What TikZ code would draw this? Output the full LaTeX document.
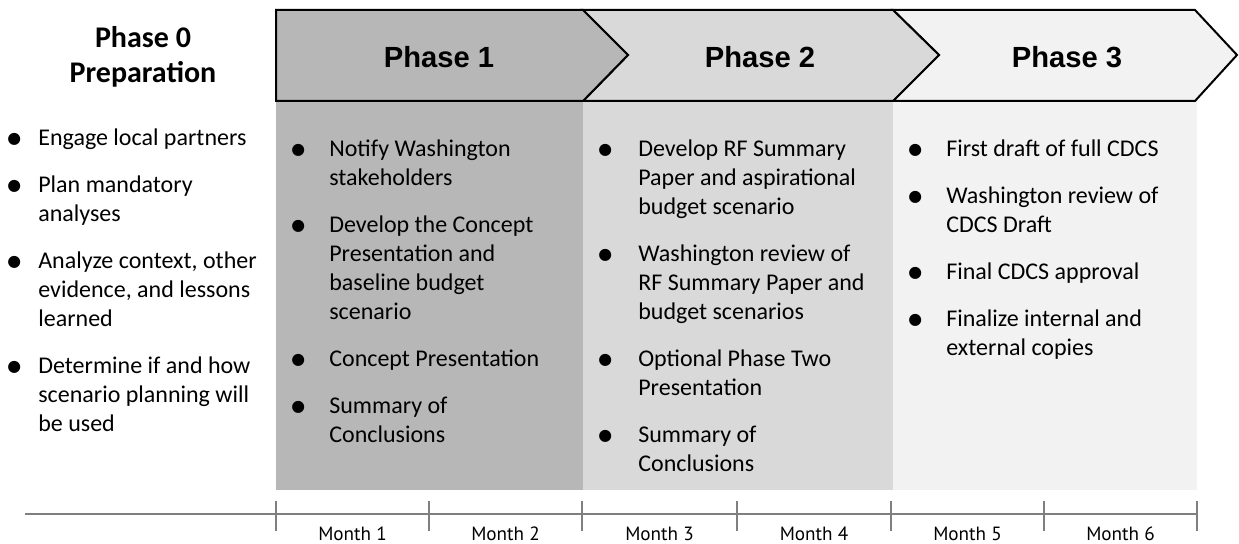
\documentclass[tikz,border=0pt]{standalone}
\usepackage{fontspec}
\setmainfont{Carlito}
\newfontfamily\headfont{Liberation Sans}
\newfontfamily\monthfont{PT Sans}
\newfontfamily\dotfont{DejaVu Sans}
\usetikzlibrary{positioning}
\definecolor{phaseA}{HTML}{B7B7B7}
\definecolor{phaseB}{HTML}{D9D9D9}
\definecolor{phaseC}{HTML}{F2F2F2}
\definecolor{axisgray}{HTML}{7F7F7F}
% bullet sitting on the left edge of a list row
\newcommand{\bul}{\makebox[0pt]{\raisebox{1.6pt}{\dotfont\fontsize{9.5}{9.5}\selectfont ●}}}

\begin{document}
\begin{tikzpicture}[x=0.6pt, y=-0.6pt]
\tikzstyle{chev}=[draw=black, line width=1.2pt, line join=miter]
\tikzstyle{head}=[inner sep=0, anchor=base, font=\headfont\bfseries\fontsize{17.5}{21}\selectfont]
\tikzstyle{items}=[inner sep=0, anchor=base west, font=\fontsize{14.4}{17.4}\selectfont]
\tikzstyle{month}=[inner sep=0, anchor=base, font=\monthfont\fontsize{11.5}{14}\selectfont]
\tikzstyle{axis}=[draw=axisgray, line width=0.9pt]
\useasboundingbox (0,0) rectangle (1239,544);

% shaded columns under the arrows
\fill[phaseA] (276,101) rectangle (583,490);
\fill[phaseB] (583,101) rectangle (893,490);
\fill[phaseC] (893,101) rectangle (1197,490);

% arrow heads
\filldraw[chev, fill=phaseC] (893,10) -- (1195,10) -- (1237,55) -- (1195,101) -- (893,101) -- (939,55) -- cycle;
\filldraw[chev, fill=phaseB] (583,10) -- (893,10) -- (939,55) -- (893,101) -- (583,101) -- (628,55) -- cycle;
\filldraw[chev, fill=phaseA] (276,10) -- (583,10) -- (628,55) -- (583,101) -- (276,101) -- cycle;

\node[head] (h1) at (439,68) {Phase 1};
\node[head] (h2) at (760,68) {Phase 2};
\node[head] (h3) at (1067,68) {Phase 3};

\node[inner sep=0, anchor=base, font=\bfseries\fontsize{18}{21}\selectfont] (h0) at (143,48)
  {\begin{tabular}[t]{@{}c@{}}Phase 0\\Preparation\end{tabular}};

% task lists
\node[items] (c0) at (14,146) {\begin{tabular}[t]{@{}l@{\hspace{14.4pt}}l@{}}
\bul & Engage local partners\\[10.8pt]
\bul & Plan mandatory\\ & analyses\\[10.8pt]
\bul & Analyze context, other\\ & evidence, and lessons\\ & learned\\[10.8pt]
\bul & Determine if and how\\ & scenario planning will\\ & be used
\end{tabular}};

\node[items] (c1) at (298,157) {\begin{tabular}[t]{@{}l@{\hspace{18.6pt}}l@{}}
\bul & Notify Washington\\ & stakeholders\\[10.8pt]
\bul & Develop the Concept\\ & Presentation and\\ & baseline budget\\ & scenario\\[10.8pt]
\bul & Concept Presentation\\[10.8pt]
\bul & Summary of\\ & Conclusions
\end{tabular}};

\node[items] (c2) at (605,157) {\begin{tabular}[t]{@{}l@{\hspace{19.8pt}}l@{}}
\bul & Develop RF Summary\\ & Paper and aspirational\\ & budget scenario\\[10.8pt]
\bul & Washington review of\\ & RF Summary Paper and\\ & budget scenarios\\[10.8pt]
\bul & Optional Phase Two\\ & Presentation\\[10.8pt]
\bul & Summary of\\ & Conclusions
\end{tabular}};

\node[items] (c3) at (915,157) {\begin{tabular}[t]{@{}l@{\hspace{18.6pt}}l@{}}
\bul & First draft of full CDCS\\[10.8pt]
\bul & Washington review of\\ & CDCS Draft\\[10.8pt]
\bul & Final CDCS approval\\[10.8pt]
\bul & Finalize internal and\\ & external copies
\end{tabular}};

% time axis
\coordinate (t0) at (25,514);
\coordinate (t1) at (1197,514);
\draw[axis] (t0) -- (t1); %
\foreach \x in {276,429,582,737,891,1044,1197}
  \draw[axis] (\x,501) -- (\x,531);
\foreach \x/\m in {352.5/1,505.5/2,659.5/3,814/4,967.5/5,1120.5/6}
  \node[month] (m\m) at (\x,540) {Month \m};
\end{tikzpicture}
\end{document}
